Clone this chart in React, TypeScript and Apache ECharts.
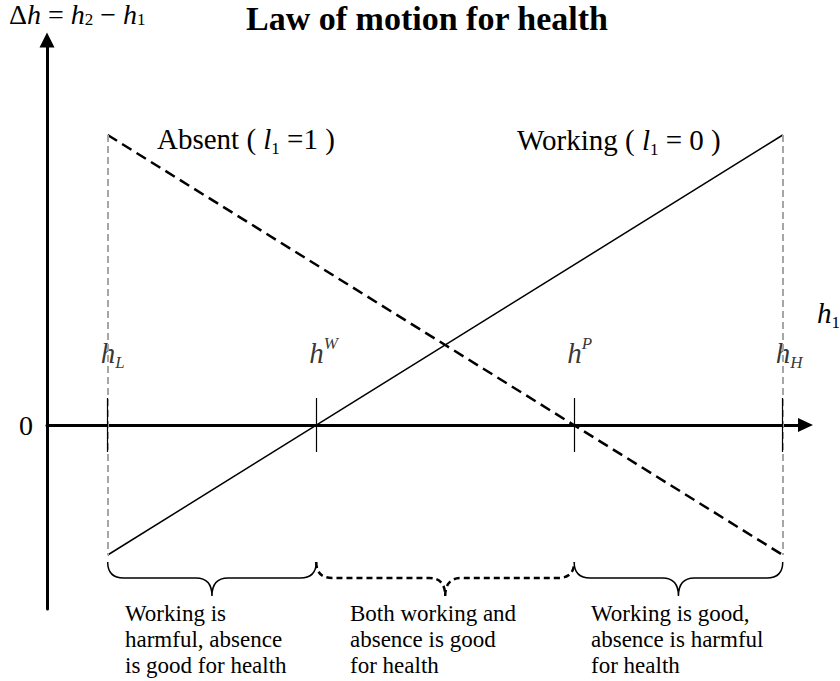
import React, { useEffect, useRef } from "react";
import * as echarts from "echarts";

const SERIF = "'Liberation Serif', 'Times New Roman', serif";

// Health thresholds on the h1 axis: hL, hW, hP, hH
const H_POINTS = [0.8, 3.55, 6.95, 9.7];
const H_NAMES = ["L", "W", "P", "H"];
const H_SCRIPT = ["sub", "sup", "sup", "sub"];

// Law of motion lines (h1, Δh)
const WORKING_X = [0.8, 9.7];
const WORKING_Y = [-1.3, 2.9];
const ABSENT_X = [0.8, 9.7];
const ABSENT_Y = [2.9, -1.3];

// Brace regions: [from, to, dashed]
const REGION_FROM = [0.8, 3.55, 6.95];
const REGION_TO = [3.55, 6.95, 9.7];
const REGION_DASHED = [0, 1, 0];
const REGION_TEXT = [
  ["Working is", "harmful, absence", "is good for health"],
  ["Both working and", "absence is good", "for health"],
  ["Working is good,", "absence is harmful", "for health"],
];
const REGION_TEXT_X = [125, 350, 591];

const TICK_HALF = 0.27;

const rich: any = {
  i: { fontFamily: SERIF, fontStyle: "italic", fontSize: 29, lineHeight: 36, color: "#000" },
  sub: { fontFamily: SERIF, fontSize: 17, lineHeight: 17, verticalAlign: "bottom", color: "#000" },
  subi: { fontFamily: SERIF, fontStyle: "italic", fontSize: 17, lineHeight: 17, verticalAlign: "bottom", color: "#000" },
  supi: { fontFamily: SERIF, fontStyle: "italic", fontSize: 17, lineHeight: 17, verticalAlign: "top", color: "#000" },
};

const richTop: any = {
  i: { fontFamily: SERIF, fontStyle: "italic", fontSize: 28, lineHeight: 28, color: "#000" },
  sub: { fontFamily: SERIF, fontSize: 17, lineHeight: 14, verticalAlign: "bottom", color: "#000" },
};

export default function App() {
  const ref = useRef<HTMLDivElement>(null);
  useEffect(() => {
    if (!ref.current) return;
    const chart = echarts.init(ref.current, null, { renderer: "svg" });
    const working = WORKING_X.map((x, i) => [x, WORKING_Y[i]]);
    const absent = ABSENT_X.map((x, i) => [x, ABSENT_Y[i]]);
    const bounds = [H_POINTS[0], H_POINTS[3]];
    const regionTexts: any[] = [];
    REGION_TEXT.forEach((lines, i) => {
      lines.forEach((t, j) => {
        regionTexts.push({
          type: "text",
          x: REGION_TEXT_X[i],
          y: 613 + j * 26,
          style: {
            text: t,
            font: `23px ${SERIF}`,
            fill: "#000",
            align: "left",
            verticalAlign: "middle",
          },
        });
      });
    });
    const option: any = {
      animation: false,
      backgroundColor: "#fff",
      grid: { left: 47, right: 34.5, top: 40, bottom: 72, containLabel: false, outerBoundsMode: "none" },
      xAxis: {
        type: "value",
        min: 0,
        max: 10,
        axisLine: {
          onZero: true,
          symbol: ["none", "triangle"],
          symbolSize: [14, 15],
          lineStyle: { color: "#000", width: 3 },
        },
        axisTick: { show: false },
        axisLabel: { show: false },
        splitLine: { show: false },
      },
      yAxis: {
        type: "value",
        min: -1.84,
        max: 3.85,
        axisLine: {
          onZero: true,
          symbol: ["none", "triangle"],
          symbolSize: [15, 15],
          lineStyle: { color: "#000", width: 3 },
        },
        axisTick: { show: false },
        splitLine: { show: false },
        axisLabel: {
          margin: 14,
          fontFamily: SERIF,
          fontSize: 28,
          color: "#000",
          showMinLabel: false,
          showMaxLabel: false,
          formatter: (v: number) => (Math.abs(v) < 1e-9 ? "0" : ""),
        },
      },
      series: [
        {
          name: "bounds",
          type: "line",
          data: [],
          silent: true,
          z: 1,
          markLine: {
            silent: true,
            symbol: ["none", "none"],
            label: { show: false },
            lineStyle: { color: "#a6a6a6", width: 2, type: [7, 4] },
            data: bounds.map((x) => [
              { coord: [x, ABSENT_Y[0]] },
              { coord: [x, ABSENT_Y[1]] },
            ]),
          },
        },
        {
          name: "ticks",
          type: "line",
          data: [],
          silent: true,
          z: 3,
          markLine: {
            silent: true,
            symbol: ["none", "none"],
            label: { show: false },
            lineStyle: { color: "#000", width: 1.2, type: "solid" },
            data: H_POINTS.map((x) => [
              { coord: [x, TICK_HALF] },
              { coord: [x, -TICK_HALF] },
            ]),
          },
        },
        {
          name: "Working",
          type: "line",
          data: working,
          symbol: "none",
          silent: true,
          z: 2,
          lineStyle: { color: "#000", width: 1.5 },
        },
        {
          name: "Absent",
          type: "line",
          data: absent,
          symbol: "none",
          silent: true,
          z: 2,
          lineStyle: { color: "#000", width: 2.5, type: [11, 6] },
        },
        {
          name: "labels",
          type: "scatter",
          symbolSize: 0,
          silent: true,
          data: H_POINTS.map((x) => [x, 0.72]),
          label: {
            show: true,
            position: "inside",
            align: "left",
            verticalAlign: "middle",
            offset: [-7, 0],
            fontFamily: SERIF,
            fontSize: 29,
            lineHeight: 36,
            color: "#000",
            rich,
            formatter: (p: any) => {
              const k = p.dataIndex;
              const tag = H_SCRIPT[k] === "sub" ? "subi" : "supi";
              return `{i|h}{${tag}|${H_NAMES[k]}}`;
            },
          },
        },
        {
          name: "braces",
          type: "custom",
          silent: true,
          clip: false,
          data: REGION_FROM.map((f, i) => [f, REGION_TO[i], REGION_DASHED[i]]),
          renderItem: (params: any, api: any) => {
            const x0 = api.value(0);
            const x1 = api.value(1);
            const dashed = api.value(2) === 1;
            const a = api.coord([x0, -1.37]);
            const b = api.coord([x1, -1.37]);
            const yF = api.coord([x0, -1.53])[1];
            const yB = api.coord([x0, -1.71])[1];
            const yT = a[1];
            const xa = a[0];
            const xb = b[0];
            const xc = (xa + xb) / 2;
            const r = yF - yT;
            const d =
              `M${xa} ${yT} Q${xa} ${yF} ${xa + r} ${yF} L${xc - r} ${yF} Q${xc} ${yF} ${xc} ${yB} ` +
              `M${xc} ${yB} Q${xc} ${yF} ${xc + r} ${yF} L${xb - r} ${yF} Q${xb} ${yF} ${xb} ${yT}`;
            return {
              type: "path",
              shape: { pathData: d },
              style: {
                fill: "none",
                stroke: "#000",
                lineWidth: dashed ? 2.5 : 1.5,
                lineDash: dashed ? [6, 4] : null,
              },
            };
          },
        },
      ],
      graphic: [
        {
          type: "text",
          x: 246,
          y: 18,
          style: {
            text: "Law of motion for health",
            font: `bold 34px ${SERIF}`,
            fill: "#000",
            align: "left",
            verticalAlign: "middle",
          },
        },
        {
          type: "text",
          x: 9,
          y: 14,
          style: {
            text: "Δ{i|h} = {i|h}{sub|2} − {i|h}{sub|1}",
            fontFamily: SERIF,
            fontSize: 28,
            lineHeight: 28,
            fill: "#000",
            align: "left",
            verticalAlign: "middle",
            rich: richTop,
          },
        },
        {
          type: "text",
          x: 157,
          y: 139,
          style: {
            text: "Absent ( {i|l}{sub|1} =1 )",
            fontFamily: SERIF,
            fontSize: 29,
            lineHeight: 36,
            fill: "#000",
            align: "left",
            verticalAlign: "middle",
            rich,
          },
        },
        {
          type: "text",
          x: 517,
          y: 140,
          style: {
            text: "Working ( {i|l}{sub|1} = 0 )",
            fontFamily: SERIF,
            fontSize: 29,
            lineHeight: 36,
            fill: "#000",
            align: "left",
            verticalAlign: "middle",
            rich,
          },
        },
        {
          type: "text",
          x: 817,
          y: 313,
          style: {
            text: "{i|h}{sub|1}",
            fontFamily: SERIF,
            fontSize: 29,
            lineHeight: 36,
            fill: "#000",
            align: "left",
            verticalAlign: "middle",
            rich,
          },
        },
        ...regionTexts,
      ],
    };
    chart.setOption(option);
    return () => chart.dispose();
  }, []);
  return (
    <div
      ref={ref}
      style={{ position: "absolute", left: 0, top: 0, width: 840, height: 681, background: "#fff" }}
    />
  );
}
